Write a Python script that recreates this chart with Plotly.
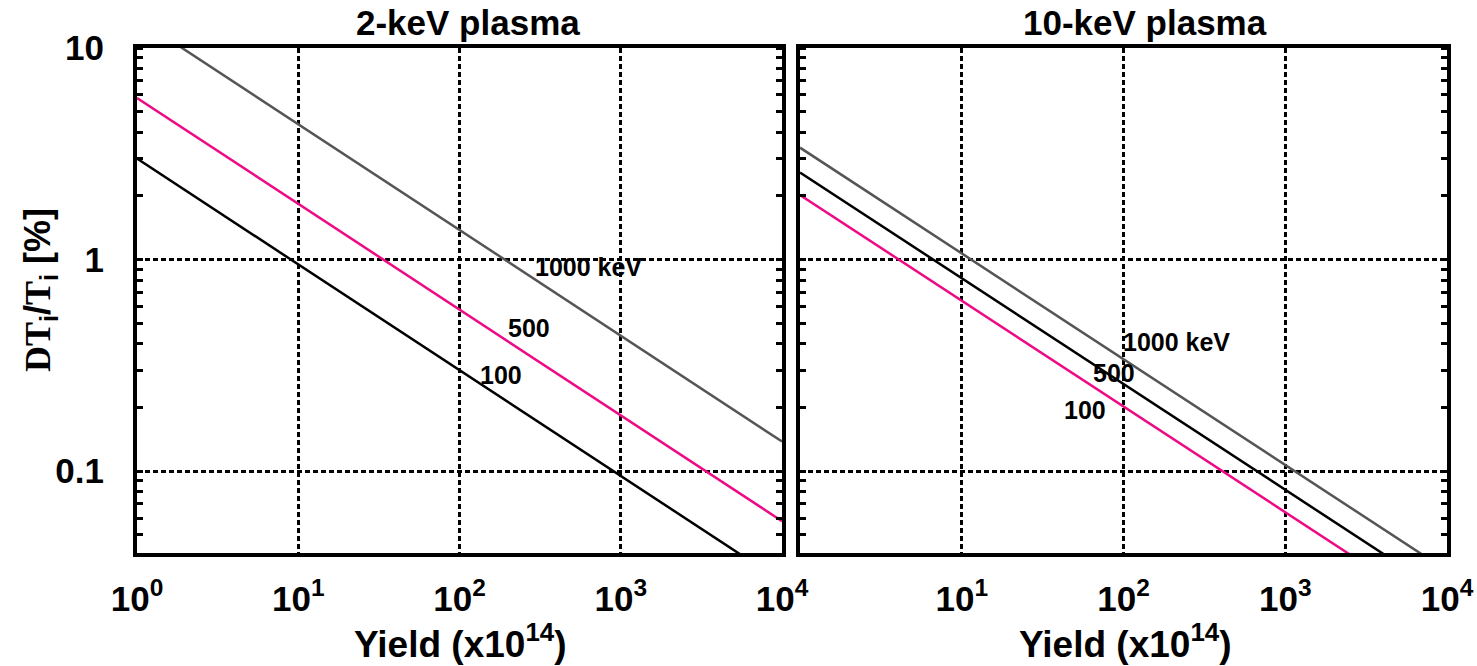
import plotly.graph_objects as go
import math

# ---- data ----
x_ends = [1, 10000]
# 2-keV plasma
left_1000 = [13.8, 0.138]
left_500 = [5.8, 0.058]
left_100 = [3.0, 0.030]
# 10-keV plasma
right_1000 = [3.38, 0.0338]
right_500 = [2.58, 0.0258]
right_100 = [2.02, 0.0202]

x_tickvals = [1, 10, 100, 1000, 10000]
x_ticktext = ["10<sup>0</sup>", "10<sup>1</sup>", "10<sup>2</sup>", "10<sup>3</sup>", "10<sup>4</sup>"]
y_tickvals = [0.1, 1, 10]
y_ticktext = ["0.1", "1", "10"]

GRAY = "#555555"
PINK = "#ee0a84"
BLACK = "#000000"
FONT = "Arial, Liberation Sans, sans-serif"

W, H = 1477, 666

fig = go.Figure()

def add_line(x, y, color, axis):
    fig.add_trace(go.Scatter(x=x, y=y, mode="lines", line=dict(color=color, width=2.5),
                             showlegend=False, xaxis="x" + axis if axis else "x",
                             yaxis="y" + axis if axis else "y", cliponaxis=True))

add_line(x_ends, left_1000, GRAY, "")
add_line(x_ends, left_500, PINK, "")
add_line(x_ends, left_100, BLACK, "")
add_line(x_ends, right_1000, GRAY, "2")
add_line(x_ends, right_500, BLACK, "2")
add_line(x_ends, right_100, PINK, "2")

ydom = [(666 - 553) / H, (666 - 48) / H]
xdom1 = [137 / W, 782 / W]
xdom2 = [800 / W, 1447 / W]

common_axis = dict(
    type="log", showline=True, linecolor="black", linewidth=4,
    showgrid=True, gridcolor="black", gridwidth=2.5, griddash="5px,3px",
    zeroline=False, ticks="", automargin=False,
    tickfont=dict(family=FONT, size=35, color="black", weight="bold"),
)

xaxis_common = dict(common_axis, mirror=True, range=[0, 4], tickvals=x_tickvals, ticktext=x_ticktext,
                    ticklabelstandoff=12)
yaxis_common = dict(common_axis, mirror="allticks", range=[math.log10(0.041), 1],
                    tickvals=y_tickvals, ticktext=y_ticktext,
                    minor=dict(ticks="inside", ticklen=6, tickwidth=3, tickcolor="black",
                               dtick="D1", showgrid=False),
                    ticklabelstandoff=22)

fig.update_layout(
    template="none",
    width=W, height=H, margin=dict(l=0, r=0, t=0, b=0, autoexpand=False),
    paper_bgcolor="white", plot_bgcolor="white", showlegend=False,
    xaxis=dict(xaxis_common, domain=xdom1, anchor="y"),
    yaxis=dict(yaxis_common, domain=ydom, anchor="x"),
    xaxis2=dict(xaxis_common, domain=xdom2, anchor="y2",
                tickvals=x_tickvals[1:], ticktext=x_ticktext[1:]),
    yaxis2=dict(yaxis_common, domain=ydom, anchor="x2", showticklabels=False),
)

def px(xp, yp):
    return xp / W, 1 - yp / H

annots = []
lab_font = dict(family=FONT, size=25, color="black", weight="bold")
# in-plot labels (data coordinates)
for txt, lx, ly, ax in [("1000 keV", 10**2.80, 10**-0.033, ""), ("500", 10**2.43, 10**-0.322, ""),
                        ("100", 10**2.26, 10**-0.544, ""),
                        ("1000 keV", 10**2.33, 10**-0.388, "2"), ("500", 10**1.94, 10**-0.535, "2"),
                        ("100", 10**1.76, 10**-0.710, "2")]:
    annots.append(dict(text=txt, x=math.log10(lx), y=math.log10(ly), xref="x" + ax, yref="y" + ax,
                       showarrow=False, font=lab_font, xanchor="center", yanchor="middle"))

title_font = dict(family=FONT, size=35, color="black", weight="bold")
for txt, cx in [("2-keV plasma", 468), ("10-keV plasma", 1145)]:
    x0, y0 = px(cx, 23)
    annots.append(dict(text=txt, x=x0, y=y0, xref="paper", yref="paper", showarrow=False,
                       font=title_font, xanchor="center", yanchor="middle"))

xt_font = dict(family=FONT, size=37, color="black", weight="bold")
for cx in [460, 1125]:
    x0, y0 = px(cx, 641)
    annots.append(dict(text="Yield (x10<sup>14</sup>)", x=x0, y=y0, xref="paper", yref="paper",
                       showarrow=False, font=xt_font, xanchor="center", yanchor="middle"))

x0, y0 = px(40, 290)
annots.append(dict(
    text="<b><span style='font-family:Liberation Serif, Times New Roman, serif'>DT</span><sub>i</sub>/"
         "<span style='font-family:Liberation Serif, Times New Roman, serif'>T</span><sub>i</sub> [%]</b>",
    x=x0, y=y0, xref="paper", yref="paper", showarrow=False, textangle=-90,
    font=dict(family=FONT, size=36, color="black"), xanchor="center", yanchor="middle"))

fig.update_layout(annotations=annots)

fig.write_html("out.html")
